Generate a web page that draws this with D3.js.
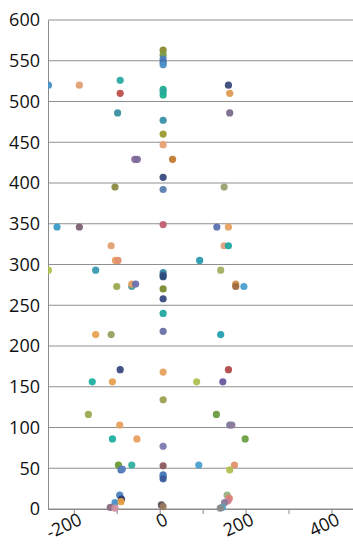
<!DOCTYPE html>
<html>
<head>
<meta charset="utf-8">
<script src="https://cdn.jsdelivr.net/npm/d3@7"></script>
<style>
  body { margin: 0; background: #fff; }
  .tick text { font-family: "Open Sans", "Noto Sans", sans-serif; font-size: 18px; fill: #111; }
</style>
</head>
<body>
<div class="chart"></div>
<script>
const WIDTH = 353;
const HEIGHT = 557;

const LEFT = 48;
const TOP = 20;
const BOTTOM = 509;
const RIGHT = 353;

// point values
var xValues = [
  -259, -187, -92, -92, -98, 8, 8, 8, 8, 8,
  8, 8, 8, 8, 8, 160, 163, 163, 8, -58,
  -52, 30, 8, 8, -104, -239, -187, 8, -113, -103,
  -97, 150, 133, 160, 150, 160, 93, -259, -149, 8,
  8, 8, -100, -65, -65, -56, 8, 8, 8, 8,
  -149, -113, -92, 8, 142, 177, 177, 196, 142, 160,
  -157, -110, 8, -166, -93, -110, -53, 8, -96, -65,
  -90, -87, 8, 8, 8, 8, 91, -93, -89, -104,
  -90, -115, -104, 4, 8, 86, 147, 132, 163, 168,
  199, 174, 163, 157, 162, 159, 151, 146, 141
];

var yValues = [
  520, 520, 526, 510, 486, 563, 557, 552, 548, 545,
  515, 512, 508, 477, 460, 520, 510, 486, 447, 429,
  429, 429, 407, 392, 395, 346, 346, 349, 323, 305,
  305, 395, 346, 346, 323, 323, 305, 293, 293, 290,
  287, 285, 273, 273, 276, 276, 270, 258, 240, 218,
  214, 214, 171, 168, 293, 276, 273, 273, 214, 171,
  156, 156, 134, 116, 103, 86, 86, 77, 54, 54,
  48, 49, 53, 42, 40, 37, 54, 17, 12, 8,
  9, 2, 1, 5, 3, 156, 156, 116, 103, 103,
  86, 54, 48, 17, 13, 10, 8, 2, 1
];

var xTicks = [-200, -100, 0, 100, 200, 300, 400];
var yTicks = [0, 50, 100, 150, 200, 250, 300, 350, 400, 450, 500, 550, 600];

// one colour per point
var pointColors = [
  "#4a90c4", "#e0a070", "#2aaaa0", "#c0504d", "#3a90a0", "#8a8a30", "#7a9a40", "#4a80c0", "#4a70b0", "#4a90c8",
  "#20b090", "#30a8a0", "#20b090", "#3a90a8", "#9a9a30", "#3a4a7a", "#e09a50", "#7a6a8a", "#e8a070", "#8a6a9a",
  "#7a6a9a", "#c07a30", "#3a4a80", "#5a80b0", "#8a8a40", "#3a9ac8", "#7a6070", "#c06070", "#e0a070", "#e8a060",
  "#e09070", "#9aa070", "#5a70b0", "#e8a060", "#e0a080", "#20a8a0", "#2a9ab0", "#b0c050", "#3a9ab0", "#3a8aa8",
  "#3a5a8a", "#2a4a7a", "#9aaa50", "#4a9aa0", "#e8a060", "#6a70b0", "#7a8a30", "#3a4a80", "#20a8a0", "#6a70a8",
  "#e8a050", "#9aa060", "#3a4a80", "#e8a060", "#a0b060", "#c8904a", "#a06a40", "#4aa0d0", "#20a0b0", "#b04a4a",
  "#20b0a0", "#e8a050", "#9aa050", "#9aaa50", "#e8a060", "#20b0a0", "#e8a060", "#7a7ab0", "#6a9a30", "#30b0a0",
  "#4a70b0", "#5a80c0", "#8a5a60", "#4a70b0", "#4a80c0", "#3a5a9a", "#4aa0d0", "#4a80c0", "#2a3a70", "#4a90c8",
  "#e8a040", "#8a6a80", "#d090a0", "#5a5050", "#9a7a60", "#b0c050", "#6a5aa0", "#6a9a40", "#7a7a9a", "#8a7a9a",
  "#6aa040", "#e0906a", "#b0c050", "#9ab080", "#e08070", "#d08090", "#8a7a9a", "#5aa0c0", "#8a8a8a"
];

var translate = function (x, y) {
    return "translate(" + x + "," + y + ")";
};

var _svg = d3.select('.chart').append('svg')
    .attr('width', WIDTH)
    .attr('height', HEIGHT);

var _xScale = d3.scaleLinear()
    .domain([-260, 450])
    .range([LEFT, RIGHT]);

var _yScale = d3.scaleLinear()
    .domain([0, 600])
    .range([BOTTOM, TOP]);

// horizontal grid
_svg.append('g')
    .selectAll('line').data(yTicks)
    .enter().append('line')
    .attr('x1', LEFT)
    .attr('x2', RIGHT)
    .attr('y1', d => _yScale(d))
    .attr('y2', d => _yScale(d))
    .attr('stroke', '#8f8f8f')
    .attr('stroke-width', 1);

// y axis
var yAxis = d3.axisLeft(_yScale).tickValues(yTicks).tickSize(0).tickPadding(8);
var yg = _svg.append('g')
    .attr('transform', translate(LEFT, 0))
    .call(yAxis);
yg.select('.domain').attr('stroke', '#8a8a8a');

// x axis
var xAxis = d3.axisBottom(_xScale)
    .tickValues(xTicks)
    .tickSizeInner(5)
    .tickSizeOuter(0)
    .tickFormat(d => d % 200 === 0 ? d : '');
var xg = _svg.append('g')
    .attr('transform', translate(0, BOTTOM))
    .call(xAxis);
xg.select('.domain').attr('stroke', '#8a8a8a');
xg.selectAll('.tick line').attr('stroke', '#8a8a8a');
xg.selectAll('.tick text')
    .attr('text-anchor', 'end')
    .attr('dy', '0.9em')
    .attr('dx', '0.1em')
    .attr('y', 1)
    .attr('transform', 'rotate(-25)');

// points, clipped to the plot area
_svg.append('clipPath')
    .attr('id', 'plot-clip')
    .append('rect')
    .attr('x', LEFT)
    .attr('y', 0)
    .attr('width', RIGHT - LEFT)
    .attr('height', BOTTOM + 10);

_svg.append('g')
    .attr('clip-path', 'url(#plot-clip)')
    .selectAll('circle').data(xValues)
    .enter().append('circle')
    .attr('cx', d => _xScale(d))
    .attr('cy', (d, i) => _yScale(yValues[i]))
    .attr('r', 3.6)
    .attr('fill', (d, i) => pointColors[i])
    .attr('fill-opacity', 0.95);
</script>
</body>
</html>
